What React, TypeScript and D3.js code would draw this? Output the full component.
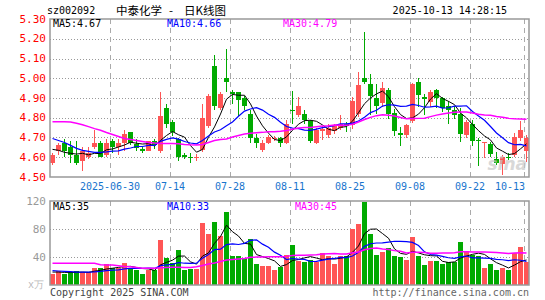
import { useEffect, useRef } from 'react';
import * as d3 from 'd3';

// ─── Daily K-line data ──────────────────────────────────────
const opens = [
  4.57, 4.63, 4.67, 4.65, 4.61, 4.58, 4.60, 4.65, 4.67, 4.61,
  4.68, 4.65, 4.67, 4.73, 4.665, 4.64, 4.63, 4.68, 4.63, 4.85,
  4.78, 4.69, 4.61, 4.60, 4.597, 4.635, 4.76, 5.06, 4.85, 5.00,
  4.93, 4.93, 4.90, 4.82, 4.695, 4.635, 4.673, 4.69, 4.70, 4.673,
  4.84, 4.815, 4.82, 4.785, 4.673, 4.733, 4.712, 4.733, 4.75, 4.77,
  4.765, 4.82, 5.00, 4.97, 4.90, 4.873, 4.943, 4.823, 4.725, 4.712,
  4.783, 4.982, 4.903, 4.88, 4.94, 4.90, 4.862, 4.84, 4.817, 4.712,
  4.77, 4.686, 4.673, 4.667, 4.59, 4.567, 4.603, 4.612, 4.695, 4.63,
];
const highs = [
  4.62, 4.67, 4.69, 4.68, 4.68, 4.65, 4.65, 4.74, 4.68, 4.69,
  4.69, 4.69, 4.74, 4.73, 4.69, 4.65, 4.68, 4.69, 4.93, 4.87,
  4.79, 4.70, 4.62, 4.62, 4.617, 4.87, 4.92, 5.12, 4.93, 5.15,
  4.94, 4.93, 4.91, 4.84, 4.72, 4.687, 4.712, 4.71, 4.703, 4.787,
  4.933, 4.907, 4.84, 4.79, 4.75, 4.757, 4.77, 4.767, 4.812, 4.778,
  4.903, 5.033, 5.235, 5.02, 4.97, 4.982, 4.953, 4.842, 4.753, 4.77,
  4.978, 5.003, 4.92, 4.94, 4.945, 4.907, 4.887, 4.857, 4.85, 4.787,
  4.787, 4.70, 4.678, 4.677, 4.628, 4.612, 4.62, 4.723, 4.783, 4.712,
];
const lows = [
  4.56, 4.61, 4.60, 4.57, 4.56, 4.53, 4.59, 4.64, 4.60, 4.60,
  4.62, 4.61, 4.63, 4.66, 4.63, 4.62, 4.63, 4.64, 4.62, 4.75,
  4.71, 4.58, 4.59, 4.57, 4.58, 4.625, 4.75, 4.84, 4.84, 4.93,
  4.87, 4.81, 4.84, 4.67, 4.645, 4.628, 4.667, 4.683, 4.65, 4.667,
  4.767, 4.803, 4.77, 4.67, 4.667, 4.687, 4.70, 4.72, 4.737, 4.728,
  4.745, 4.803, 4.97, 4.812, 4.82, 4.853, 4.792, 4.708, 4.658, 4.698,
  4.773, 4.853, 4.812, 4.853, 4.85, 4.827, 4.77, 4.793, 4.678, 4.70,
  4.657, 4.557, 4.595, 4.603, 4.56, 4.512, 4.587, 4.603, 4.683, 4.578,
];
const closes = [
  4.61, 4.66, 4.63, 4.61, 4.57, 4.63, 4.62, 4.67, 4.60, 4.67,
  4.65, 4.67, 4.72, 4.67, 4.645, 4.63, 4.68, 4.66, 4.81, 4.77,
  4.73, 4.60, 4.60, 4.595, 4.603, 4.80, 4.91, 4.86, 4.92, 4.98,
  4.92, 4.89, 4.86, 4.70, 4.673, 4.673, 4.703, 4.70, 4.673, 4.767,
  4.837, 4.86, 4.79, 4.683, 4.74, 4.745, 4.75, 4.757, 4.767, 4.757,
  4.883, 4.965, 4.983, 4.912, 4.862, 4.953, 4.82, 4.733, 4.712, 4.762,
  4.97, 4.915, 4.895, 4.93, 4.90, 4.85, 4.84, 4.812, 4.717, 4.778,
  4.683, 4.683, 4.678, 4.617, 4.573, 4.603, 4.597, 4.703, 4.737, 4.70,
];
// volume, 万手
const volumes = [
  16.2, 20, 16.2, 18, 20, 18, 18, 24.8, 23.8, 29.5,
  23.8, 23.8, 31.4, 24.8, 21.4, 16.2, 21, 21, 64.3, 39,
  32, 50, 21.4, 22.9, 22.9, 89, 72.9, 90.5, 70.5, 104.8,
  41.9, 41.9, 38, 65.7, 30, 27.6, 27.6, 21.4, 26.2, 42.9,
  57.1, 34.3, 33.3, 35.2, 32.4, 45.7, 41.9, 30, 41, 41.4,
  79.5, 86.7, 118, 72.9, 42.9, 47.1, 53.3, 41.9, 40.5, 36.2,
  68.6, 41.9, 28.6, 34.3, 34.3, 30, 33.3, 33.3, 61.4, 48.6,
  42.5, 41.5, 24.5, 30, 21, 24.8, 21.4, 45.2, 54.3, 33.3,
];

// MA values shown before a full window exists inside the visible range
const ma5Head = [4.64, 4.635, 4.625, 4.62];
const ma10Head = [4.695, 4.685, 4.675, 4.66, 4.645, 4.635, 4.63, 4.625, 4.625];
const ma30Head = [
  4.78, 4.78, 4.78, 4.778, 4.772, 4.765, 4.755, 4.745, 4.737, 4.725,
  4.715, 4.705, 4.695, 4.69, 4.685, 4.68, 4.675, 4.672, 4.67, 4.67,
  4.67, 4.668, 4.665, 4.663, 4.662, 4.665, 4.675, 4.685, 4.69,
];
const volMa5Head = [18.5, 18.5, 18, 18];
const volMa10Head = [20.5, 20, 19.5, 19, 18.5, 18.5, 18.5, 18.8, 19.5];
const volMa30Head = [
  31, 31, 31, 31, 31, 31, 31, 31, 29, 28.6,
  28.6, 27.6, 26.5, 26, 25, 24, 23.8, 23.8, 24.5, 25,
  25.5, 25.5, 25, 25, 26, 28, 30, 31.5, 33.5,
];

const tickIdx = [10, 20, 30, 40, 50, 60, 70, 79];
const tickLabels = ['2025-06-30', '07-14', '07-28', '08-11', '08-25', '09-08', '09-22', '10-13'];
const priceTicks = [5.3, 5.2, 5.1, 5.0, 4.9, 4.8, 4.7, 4.6, 4.5];
const volTicks = [120, 80, 40];

const RED = '#ff5555';
const GREEN = '#00aa00';
const MONO = 'DejaVu Sans Mono, monospace';
const CJK = 'Noto Sans CJK SC, sans-serif';

function movingAvg(vals: number[], n: number, head: number[]): number[] {
  return vals.map((_, i) =>
    i >= n - 1 ? (d3.mean(vals.slice(i - n + 1, i + 1)) as number) : head[i]
  );
}

export default function App() {
  const svgRef = useRef<SVGSVGElement>(null);

  useEffect(() => {
    document.body.style.margin = '0';
    if (!svgRef.current) return;
    const svg = d3.select(svgRef.current);
    svg.selectAll('*').remove();

    const left = 50, right = 529;
    const pTop = 19, pBot = 177;
    const vTop = 201, vBot = 285;

    const x = d3.scaleLinear().domain([0, 80]).range([50, 530]);
    const y = d3.scaleLinear().domain([4.5, 5.3]).range([pBot, pTop]);
    const yv = d3.scaleLinear().domain([0, 120]).range([vBot, vTop]);
    const cx = (i: number) => x(i) + 2.5;
    const up = (i: number) => closes[i] >= opens[i];

    svg.append('rect').attr('width', 545).attr('height', 300).attr('fill', '#fff');

    // ─── Grid ───────────────────────────────────────────
    const grid = svg.append('g');
    priceTicks.slice(1, -1).forEach((p) => {
      grid.append('line')
        .attr('x1', left).attr('x2', right)
        .attr('y1', Math.round(y(p)) + 0.5).attr('y2', Math.round(y(p)) + 0.5)
        .attr('stroke', '#999').attr('stroke-dasharray', '1,2');
    });
    [80, 40].forEach((v) => {
      grid.append('line')
        .attr('x1', left).attr('x2', right)
        .attr('y1', Math.round(yv(v)) + 0.5).attr('y2', Math.round(yv(v)) + 0.5)
        .attr('stroke', '#999').attr('stroke-dasharray', '1,2');
    });
    tickIdx.forEach((i) => {
      [[pTop, pBot], [vTop, vBot]].forEach(([a, b]) => {
        grid.append('line')
          .attr('x1', x(i) + 0.5).attr('x2', x(i) + 0.5)
          .attr('y1', a).attr('y2', b)
          .attr('stroke', '#aaa').attr('stroke-dasharray', '5,4');
      });
    });

    // ─── Candles ────────────────────────────────────────
    const candles = svg.append('g').attr('shape-rendering', 'crispEdges');
    closes.forEach((c, i) => {
      const col = up(i) ? RED : GREEN;
      candles.append('line')
        .attr('x1', cx(i)).attr('x2', cx(i))
        .attr('y1', y(highs[i])).attr('y2', y(lows[i]))
        .attr('stroke', col);
      const top = y(Math.max(opens[i], c));
      const h = Math.max(1, Math.abs(y(opens[i]) - y(c)));
      candles.append('rect')
        .attr('x', x(i)).attr('y', top).attr('width', 5).attr('height', h)
        .attr('fill', col);
      candles.append('rect')
        .attr('x', x(i)).attr('y', yv(volumes[i])).attr('width', 5)
        .attr('height', vBot - yv(volumes[i]))
        .attr('fill', col);
    });

    // ─── MA lines ───────────────────────────────────────
    const idx = d3.range(closes.length);
    const priceLine = (vals: number[]) =>
      d3.line<number>().x((i) => cx(i)).y((i) => y(vals[i]))(idx);
    const volLine = (vals: number[]) =>
      d3.line<number>().x((i) => cx(i)).y((i) => yv(vals[i]))(idx);

    const series = [
      { p: movingAvg(closes, 5, ma5Head), v: movingAvg(volumes, 5, volMa5Head), color: '#000', w: 1 },
      { p: movingAvg(closes, 10, ma10Head), v: movingAvg(volumes, 10, volMa10Head), color: '#0000ff', w: 1.2 },
      { p: movingAvg(closes, 30, ma30Head), v: movingAvg(volumes, 30, volMa30Head), color: '#ff00ff', w: 1.5 },
    ];
    series.forEach((s) => {
      svg.append('path').attr('d', priceLine(s.p)).attr('fill', 'none')
        .attr('stroke', s.color).attr('stroke-width', s.w);
      svg.append('path').attr('d', volLine(s.v)).attr('fill', 'none')
        .attr('stroke', s.color).attr('stroke-width', s.w);
    });

    // watermark
    svg.append('text').attr('x', 527).attr('y', 170).attr('text-anchor', 'end')
      .attr('font-family', 'DejaVu Sans, sans-serif').attr('font-size', 17)
      .attr('font-style', 'italic').attr('font-weight', 'bold')
      .attr('fill', '#c8c8c8').attr('opacity', 0.7).text('sina');

    // ─── Frames ─────────────────────────────────────────
    [[pTop, pBot], [vTop, vBot]].forEach(([a, b]) => {
      svg.append('rect')
        .attr('x', left).attr('y', a).attr('width', right - left).attr('height', b - a)
        .attr('fill', 'none').attr('stroke', '#999').attr('stroke-width', 1.5);
    });

    // ─── Axis labels ────────────────────────────────────
    const txt = (tx: number, ty: number, s: string, fill: string, anchor = 'start', size = 10, family = MONO) =>
      svg.append('text').attr('x', tx).attr('y', ty).attr('text-anchor', anchor)
        .attr('font-family', family).attr('font-size', size).attr('fill', fill).text(s);

    priceTicks.forEach((p) => txt(46, y(p) + 3.5, p.toFixed(2), '#ff0000', 'end', 11));
    volTicks.forEach((v) => txt(46, yv(v) + 3.5, String(v), '#999', 'end', 11));
    txt(44, 288, 'x万', '#bbb', 'end', 10);

    tickIdx.forEach((i, k) => {
      const label = tickLabels[k];
      const w = label.length * 6;
      let px = x(i);
      if (px + w / 2 > right - 4) px = right - 4 - w / 2;
      txt(px, 190, label, '#1874cd', 'middle', 10);
    });

    // ─── Header & legends ───────────────────────────────
    txt(47, 14, 'sz002092', '#000', 'start', 10);
    txt(116, 14.5, '中泰化学', '#000', 'start', 11.5, CJK);
    txt(171, 14.5, '-', '#000', 'middle', 11.5, CJK);
    txt(184, 14.5, '日K线图', '#000', 'start', 11.5, CJK);
    txt(507, 14, '2025-10-13 14:28:15', '#000', 'end', 10);

    const last = closes.length - 1;
    txt(53, 27, `MA5:${series[0].p[last].toFixed(2)}`, '#000');
    txt(167, 27, `MA10:${series[1].p[last].toFixed(2)}`, '#0000ff');
    txt(283, 27, `MA30:${series[2].p[last].toFixed(2)}`, '#ff00ff');
    txt(53, 210, `MA5:${Math.floor(series[0].v[last])}`, '#000');
    txt(167, 210, `MA10:${Math.floor(series[1].v[last])}`, '#0000ff');
    txt(295, 210, `MA30:${Math.floor(series[2].v[last])}`, '#ff00ff');

    txt(50, 296, 'Copyright 2025 SINA.COM', '#444', 'start', 10);
    txt(529, 296, 'http://finance.sina.com.cn', '#666', 'end', 10);
  }, []);

  return <svg ref={svgRef} width={545} height={300} style={{ display: 'block' }} />;
}
